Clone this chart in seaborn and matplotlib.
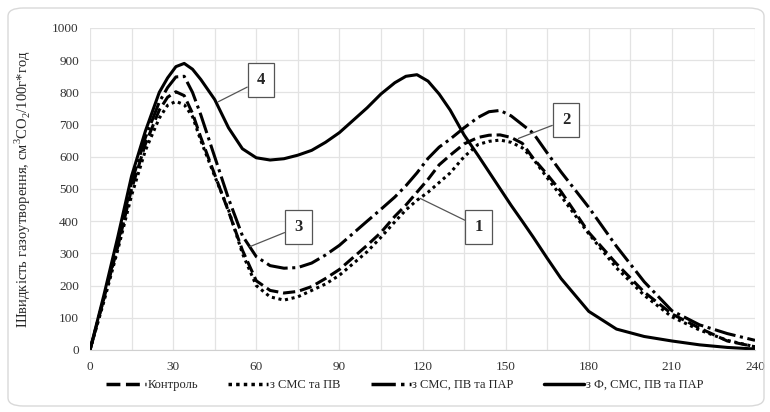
import numpy as np
import pandas as pd
import matplotlib
matplotlib.use("Agg")
import matplotlib.pyplot as plt
from matplotlib.patches import FancyBboxPatch
import seaborn as sns

sns.set_style("white")
plt.rcParams['font.family'] = ['Liberation Serif', 'DejaVu Serif']
plt.rcParams['mathtext.fontset'] = 'custom'
plt.rcParams['mathtext.rm'] = 'Liberation Serif'

# time points (same for all series)
hours = [0, 5, 10, 15, 20, 25, 28, 31, 34, 37, 40, 45, 50, 55, 60, 65, 70, 75, 80, 85, 90, 100, 105,
         110, 114, 118, 122, 126, 130, 135, 140, 144, 148, 152, 156, 160, 165, 170, 180, 190, 200, 210,
         220, 230, 240]

control = [0, 160, 320, 500, 640, 745, 785, 802, 790, 735, 660, 545, 430, 310, 215, 185, 177, 182, 197,
           222, 250, 325, 365, 415, 450, 490, 530, 575, 605, 640, 660, 667, 668, 660, 642, 595, 545, 492,
           365, 268, 180, 112, 68, 28, 10]
sms_pv = [0, 150, 310, 480, 620, 720, 760, 772, 762, 725, 650, 540, 435, 300, 200, 165, 155, 165, 185,
          205, 232, 305, 350, 398, 435, 465, 490, 520, 550, 600, 638, 648, 652, 645, 628, 593, 535, 478,
          361, 255, 170, 103, 62, 30, 10]
sms_pv_par = [0, 160, 330, 520, 660, 770, 815, 848, 850, 800, 730, 600, 470, 355, 290, 262, 254, 256, 270,
              295, 325, 400, 437, 475, 510, 550, 595, 630, 655, 690, 722, 740, 744, 727, 700, 673, 612, 553,
              443, 322, 212, 122, 78, 51, 30]
f_sms_pv_par = [0, 170, 350, 540, 680, 800, 845, 880, 890, 872, 840, 778, 690, 625, 597, 590, 594, 605, 620,
                645, 675, 752, 795, 830, 850, 855, 835, 795, 745, 668, 605, 553, 501, 449, 400, 350, 285, 222,
                120, 65, 42, 28, 16, 8, 3]

names = ['Контроль', 'з СМС та ПВ', 'з СМС, ПВ та ПАР', 'з Ф, СМС, ПВ та ПАР']
series = [control, sms_pv, sms_pv_par, f_sms_pv_par]

df = pd.concat([pd.DataFrame({'t': hours, 'v': s, 'name': n}) for n, s in zip(names, series)])

fig = plt.figure(figsize=(7.7, 4.12), dpi=100)
ax = fig.add_axes([90 / 770, 1 - 350 / 412, 665 / 770, 322 / 412])

# rounded chart border
fig.patches.append(FancyBboxPatch((8 / 770, 6 / 412), 756 / 770, 398 / 412,
                                  boxstyle="round,pad=0,rounding_size=0.02",
                                  transform=fig.transFigure, fill=False,
                                  edgecolor='#d9d9d9', linewidth=1))

dashes = {names[0]: (4, 1.6), names[1]: (1, 1.2), names[2]: (7, 1.5, 1, 1.5), names[3]: ''}
sns.lineplot(data=df, x='t', y='v', hue='name', style='name', dashes=dashes,
             palette=['black'] * 4, linewidth=2.2, ax=ax, legend=True)

ax.set_xlim(0, 240)
ax.set_ylim(0, 1000)
ax.set_xticks(np.arange(0, 241, 30))
ax.set_xticks(np.arange(0, 241, 15), minor=True)
ax.set_yticks(np.arange(0, 1001, 100))
ax.grid(which='both', color='#e3e3e3', linewidth=0.9)
ax.set_axisbelow(True)
for side in ['top', 'right', 'left']:
    ax.spines[side].set_visible(False)
ax.spines['bottom'].set_color('#d0d0d0')
ax.tick_params(axis='both', which='both', length=0, labelsize=9.5, labelcolor='#333333', pad=8)
ax.set_xlabel('')
ax.set_ylabel(r'Швидкість газоутворення, см$^{\mathrm{3}}$CO$_{\mathrm{2}}$/100г*год', fontsize=10.5, labelpad=14)

# numbered callouts
labels = ['4', '3', '2', '1']
box_xy = [(61.7, 838), (75.2, 382), (171.8, 714), (140.3, 382)]
point_xy = [(46.3, 771), (57.7, 321), (154.6, 657), (119.1, 471)]
for lab, bxy, pxy in zip(labels, box_xy, point_xy):
    ax.annotate(lab, xy=pxy, xytext=bxy, ha='center', va='center', fontsize=12, fontweight='bold',
                bbox=dict(boxstyle='square,pad=0.55', fc='white', ec='#555555', lw=0.9),
                arrowprops=dict(arrowstyle='-', color='#555555', lw=0.9, shrinkA=0, shrinkB=0))

leg = ax.legend(loc='upper center', bbox_to_anchor=(0.473, -0.055), ncol=4, frameon=False,
                fontsize=9, handlelength=3.2, columnspacing=2.4, handletextpad=0.15)
for line in leg.get_lines():
    line.set_linewidth(2.5)

fig.savefig('out.png', dpi=100)
